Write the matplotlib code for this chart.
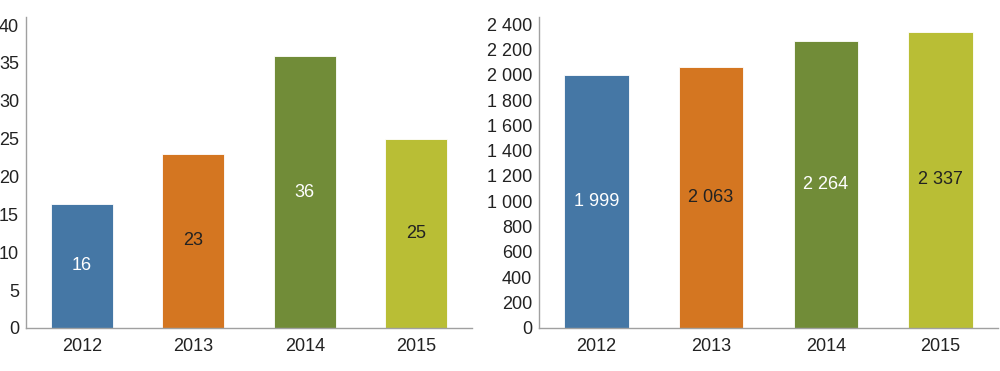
import matplotlib.pyplot as plt
from matplotlib.ticker import FuncFormatter

plt.rcParams['font.family'] = ['Liberation Sans', 'DejaVu Sans']

years = ['2012', '2013', '2014', '2015']
left_values = [16.4, 23.0, 35.9, 24.9]
left_labels = ['16', '23', '36', '25']
right_values = [1999, 2063, 2264, 2337]
right_labels = ['1 999', '2 063', '2 264', '2 337']

colors = ['#4577a5', '#d47621', '#718c38', '#b9be35']
text_colors = ['white', '#222222', 'white', '#222222']


def space_thousands(v, pos):
    return f'{int(round(v)):,}'.replace(',', ' ')


def draw(ax, values, labels, ymax, step):
    x = range(len(values))
    bars = ax.bar(x, values, width=0.56, color=colors, edgecolor='white', linewidth=0.6)
    for b, lab, tc in zip(bars, labels, text_colors):
        ax.text(b.get_x() + b.get_width() / 2, b.get_height() / 2, lab,
                ha='center', va='center', color=tc, fontsize=13)
    ax.set_xlim(-0.5, len(values) - 0.5)
    ax.set_ylim(0, ymax)
    ax.set_xticks(list(x))
    ax.set_xticklabels(years)
    ax.set_yticks(range(0, int(ymax) + 1, step))
    ax.yaxis.set_major_formatter(FuncFormatter(space_thousands))
    for s in ['top', 'right']:
        ax.spines[s].set_visible(False)
    for s in ['left', 'bottom']:
        ax.spines[s].set_color('#a0a0a0')
        ax.spines[s].set_linewidth(1.0)
    ax.tick_params(length=0, labelsize=13, colors='#222222')
    ax.tick_params(axis='x', pad=7)
    ax.tick_params(axis='y', pad=5)


fig = plt.figure(figsize=(10, 3.71), dpi=100)
ax1 = fig.add_axes([0.026, 0.116, 0.446, 0.838])
ax2 = fig.add_axes([0.539, 0.116, 0.459, 0.838])

draw(ax1, left_values, left_labels, 41.06, 5)
draw(ax2, right_values, right_labels, 2455, 200)

fig.savefig('out.png', dpi=100)
